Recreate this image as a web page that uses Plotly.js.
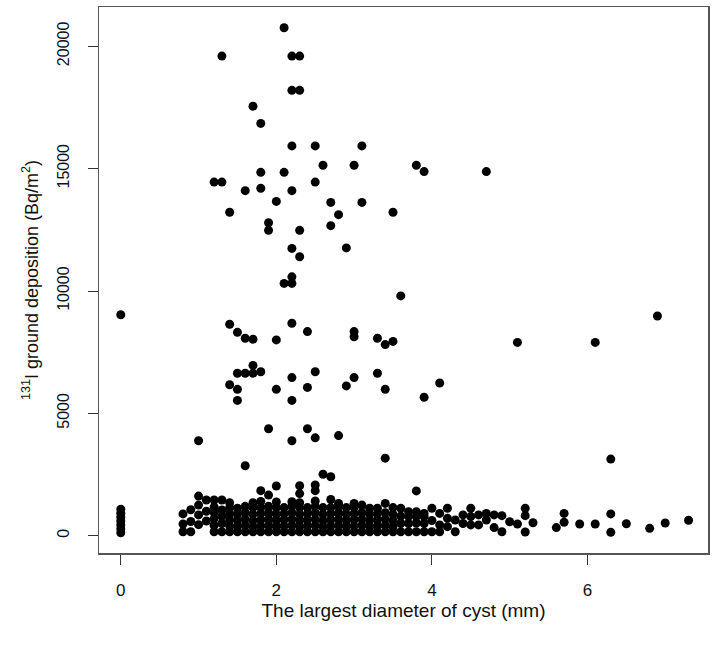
<!DOCTYPE html>
<html>
<head>
<meta charset="utf-8">
<script src="https://cdn.plot.ly/plotly-3.0.1.min.js"></script>
<style>
  html, body { margin: 0; padding: 0; background: #fff; }
  #chart { width: 720px; height: 651px; }
</style>
</head>
<body>
<div id="chart"></div>
<script>
// scattered points above the dense band (diameter mm, deposition Bq/m2)
const highX = [
  0, 1.0, 1.0, 1.2, 1.3, 1.3, 1.4, 1.4, 1.4,
  1.5, 1.5, 1.5, 1.5, 1.6, 1.6, 1.6, 1.6,
  1.7, 1.7, 1.7, 1.7, 1.8, 1.8, 1.8, 1.8, 1.8,
  1.9, 1.9, 1.9, 1.9, 2.0, 2.0, 2.0, 2.0,
  2.1, 2.1, 2.1,
  2.2, 2.2, 2.2, 2.2, 2.2, 2.2, 2.2, 2.2, 2.2, 2.2, 2.2,
  2.3, 2.3, 2.3, 2.3, 2.3, 2.3,
  2.4, 2.4, 2.4,
  2.5, 2.5, 2.5, 2.5, 2.5, 2.5,
  2.6, 2.6, 2.7, 2.7, 2.7, 2.8, 2.8, 2.9, 2.9,
  3.0, 3.0, 3.0, 3.0, 3.1, 3.1,
  3.3, 3.3, 3.4, 3.4, 3.4, 3.5, 3.5, 3.6,
  3.8, 3.8, 3.9, 3.9, 4.1, 4.7, 5.1, 6.1, 6.3, 6.9
];
const highY = [
  9030, 3880, 1620, 14450, 14450, 19600, 13220, 8640, 6170,
  8310, 6640, 5980, 5530, 14100, 8070, 6640, 2860,
  17550, 8030, 6960, 6640, 16850, 14850, 14200, 6700, 1840,
  12790, 12480, 4370, 1660, 13660, 8000, 5980, 2030,
  20760, 14850, 10310,
  19600, 18200, 15930, 14100, 11740, 10580, 10310, 8680, 6460, 5530, 3880,
  19600, 18200, 12480, 11400, 2040, 1720,
  8340, 6060, 4370,
  15930, 14450, 6700, 4000, 2070, 1840,
  15140, 2510, 13620, 12670, 2410, 13120, 4090, 11760, 6120,
  15140, 8340, 8130, 6460, 15930, 13620,
  8070, 6640, 7810, 5980, 3170, 13220, 7940, 9800,
  15140, 1830, 14880, 5660, 6240, 14880, 7900, 7900, 3130, 8980
];

// dense band of low deposition values, one list per diameter
const bandDiameters = [
  0, 0.8, 0.9, 1.0, 1.1, 1.2, 1.3, 1.4, 1.5, 1.6, 1.7, 1.8, 1.9,
  2.0, 2.1, 2.2, 2.3, 2.4, 2.5, 2.6, 2.7, 2.8, 2.9,
  3.0, 3.1, 3.2, 3.3, 3.4, 3.5, 3.6, 3.7, 3.8, 3.9,
  4.0, 4.1, 4.2, 4.3, 4.4, 4.5, 4.6, 4.7, 4.8, 4.9,
  5.0, 5.1, 5.2, 5.3, 5.6, 5.7, 5.9, 6.1, 6.3, 6.5, 6.8, 7.0, 7.3
];
const bandValues = [
  [120, 280, 440, 600, 760, 920, 1080],
  [160, 480, 890],
  [160, 580, 1060],
  [450, 850, 1250],
  [600, 1000, 1460],
  [160, 420, 700, 950, 1180, 1460],
  [160, 500, 800, 1050, 1460],
  [160, 400, 650, 900, 1150, 1350],
  [160, 380, 620, 870, 1120],
  [160, 420, 680, 940, 1200],
  [160, 380, 620, 880, 1150, 1350],
  [160, 400, 650, 900, 1150, 1400],
  [160, 420, 680, 940, 1200],
  [160, 380, 620, 880, 1150, 1380],
  [160, 400, 650, 900, 1150],
  [160, 420, 680, 940, 1200, 1390],
  [160, 380, 620, 880, 1150, 1350],
  [160, 400, 650, 900, 1150],
  [160, 420, 680, 940, 1200, 1420],
  [160, 380, 620, 880, 1150],
  [160, 400, 650, 900, 1150, 1480],
  [160, 420, 680, 940, 1200, 1320],
  [160, 380, 620, 880, 1150],
  [160, 400, 650, 900, 1150, 1320],
  [160, 420, 680, 940, 1250],
  [160, 380, 620, 880, 1120],
  [160, 400, 650, 900, 1120],
  [160, 420, 680, 940, 1320],
  [160, 380, 620, 880, 1150],
  [160, 500, 800, 1120],
  [160, 500, 780, 980],
  [160, 520, 780, 980],
  [160, 500, 780, 910],
  [160, 620, 1120],
  [160, 440, 910],
  [370, 710, 1120],
  [160, 640],
  [500, 850],
  [440, 780, 1120],
  [440, 850],
  [640, 910],
  [330, 850],
  [160, 820],
  [570],
  [480],
  [150, 820, 1120],
  [530],
  [330],
  [550, 910],
  [480],
  [480],
  [140, 890],
  [490],
  [300],
  [520],
  [630]
];

const xTicks = [0, 2, 4, 6];
const yTicks = [0, 5000, 10000, 15000, 20000];
const yTickLabels = ['0', '5000', '10000', '15000', '20000'];

const bandX = bandDiameters.flatMap((d, i) => bandValues[i].map(() => d));
const bandY = bandValues.flat();

const trace = {
  x: bandX.concat(highX),
  y: bandY.concat(highY),
  type: 'scatter',
  mode: 'markers',
  marker: { color: '#000', size: 9, line: { width: 0 } },
  hoverinfo: 'x+y'
};

const axisLine = {
  showline: true,
  mirror: true,
  linecolor: '#555',
  linewidth: 1.5,
  showgrid: false,
  zeroline: false,
  ticks: 'outside',
  ticklen: 10,
  tickwidth: 1,
  tickcolor: '#333'
};

const layout = {
  width: 720,
  height: 651,
  paper_bgcolor: '#fff',
  plot_bgcolor: '#fff',
  font: { family: 'Liberation Sans, Arial, sans-serif', color: '#111' },
  margin: { l: 99, r: 12, t: 7, b: 98 },
  showlegend: false,
  xaxis: Object.assign({}, axisLine, {
    range: [-0.28, 7.55],
    tickvals: xTicks,
    ticktext: xTicks.map(String),
    tickfont: { size: 17 },
    ticklabelstandoff: 11,
    title: { text: 'The largest diameter of cyst (mm)', font: { size: 19 }, standoff: 2 }
  }),
  yaxis: Object.assign({}, axisLine, {
    range: [-707, 21606],
    tickvals: yTicks,
    ticktext: yTickLabels,
    tickangle: -90,
    tickfont: { size: 16 },
    ticklabelstandoff: 12,
    title: { text: '<sup>131</sup>I ground deposition (Bq/m<sup>2</sup>)', font: { size: 18 }, standoff: 12 }
  })
};

Plotly.newPlot('chart', [trace], layout, { displayModeBar: false, staticPlot: true });
</script>
</body>
</html>
